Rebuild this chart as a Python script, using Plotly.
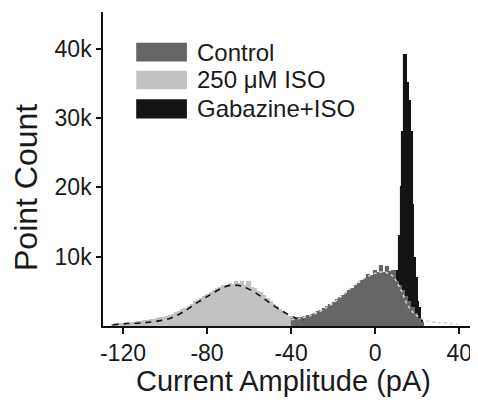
import plotly.graph_objects as go

# ---------------- data ----------------
iso_start, iso_width = -124.5, 1.5
iso_counts = [150, 250, 300, 350, 400, 400, 450, 500, 550, 600,
              650, 700, 800, 850, 1000, 1100, 1200, 1350, 1500, 1650,
              1850, 2050, 2300, 2500, 2800, 3100, 3400, 3600, 3900, 4250,
              4500, 4750, 5000, 5300, 5500, 5750, 5800, 6100, 5950, 6400,
              6000, 6350, 5800, 6300, 5500, 5400, 4900, 4700, 4300, 3900,
              3500, 3100, 2700, 2300, 1950, 1600, 1300]

ctl_start, ctl_width = -39.0, 1.5
ctl_counts = [1000, 1050, 1100, 1200, 1300, 1450, 1600, 1800, 2000, 2200,
              2500, 2800, 3100, 3350, 3700, 4000, 4300, 4650, 5000, 5400,
              5800, 6100, 6500, 6800, 7300, 7200, 7900, 7600, 8600, 7700,
              8500, 7800, 8000, 6400, 5800, 5000, 4200, 3400, 2600, 1800,
              1000, 400]

gab_start, gab_width = 8.6, 0.8
gab_counts = [1500, 2500, 4000, 8000, 13000, 20000, 28000, 39100, 39100, 35000,
              32400, 28000, 17500, 9800, 6900, 3500, 2600, 900, 400]

iso_fit_x = [-125, -118, -111, -105, -98, -91.5, -84.5, -78, -72, -67.5,
             -63, -57, -50.5, -44, -38, -34]
iso_fit_y = [150, 350, 450, 650, 1050, 2000, 3400, 4600, 5600, 5900,
             5700, 4800, 3400, 2100, 1200, 900]

ctl_fit_x = [-40, -30, -20, -10, -5, 0, 4, 8, 12, 15.5, 19, 24, 30, 39]
ctl_fit_y = [900, 1600, 3300, 5900, 6900, 7600, 7800, 7300, 5400, 3000,
             1700, 800, 500, 300]

x_tickvals = [-120, -80, -40, 0, 40]
x_ticktext = ["-120", "-80", "-40", "0", "40"]
y_tickvals = [10000, 20000, 30000, 40000]
y_ticktext = ["10k", "20k", "30k", "40k"]

legend_names = ["Control", "250 \u03bcM ISO", "Gabazine+ISO"]
x_title = "Current Amplitude (pA)"
y_title = "Point Count"

# ---------------- styles ----------------
C_CTL = "#666666"
C_ISO = "#c2c2c2"
C_GAB = "#141414"
TXT = "#1a1a1a"
FONT = "Liberation Sans, Arial, sans-serif"


def centers(start, width, counts):
    return [start + width * i for i in range(len(counts))]


fig = go.Figure()

fig.add_trace(go.Bar(x=centers(gab_start, gab_width, gab_counts), y=gab_counts,
                     width=gab_width, name=legend_names[2],
                     marker=dict(color=C_GAB, line=dict(width=1.1, color=C_GAB))))
fig.add_trace(go.Bar(x=centers(iso_start, iso_width, iso_counts), y=iso_counts,
                     width=iso_width, name=legend_names[1],
                     marker=dict(color=C_ISO, line=dict(width=1.1, color=C_ISO))))
fig.add_trace(go.Bar(x=centers(ctl_start, ctl_width, ctl_counts), y=ctl_counts,
                     width=ctl_width, name=legend_names[0],
                     marker=dict(color=C_CTL, line=dict(width=1.1, color=C_CTL))))

fig.add_trace(go.Scatter(x=iso_fit_x, y=iso_fit_y, mode="lines",
                         line=dict(color="#111111", width=1.6, dash="6px,5px", shape="spline"),
                         showlegend=False, hoverinfo="skip"))
fig.add_trace(go.Scatter(x=ctl_fit_x, y=ctl_fit_y, mode="lines",
                         line=dict(color="#cfcfcf", width=1.6, dash="3px,3px", shape="spline"),
                         showlegend=False, hoverinfo="skip"))

# manual legend (large swatches as in the reference)
sw_x0, sw_x1 = 0.089, 0.225
rows = [(0.842, 0.902, C_CTL), (0.754, 0.813, C_ISO), (0.661, 0.722, C_GAB)]
for (y0, y1, col), name in zip(rows, legend_names):
    fig.add_shape(type="rect", xref="paper", yref="paper",
                  x0=sw_x0, x1=sw_x1, y0=y0, y1=y1,
                  fillcolor=col, line=dict(width=0))
    fig.add_annotation(xref="paper", yref="paper", x=0.247, y=(y0 + y1) / 2,
                       text=name, showarrow=False, xanchor="left", yanchor="middle",
                       font=dict(family=FONT, size=24, color=TXT))

# axis titles placed as in the reference
fig.add_annotation(xref="paper", yref="paper", x=-0.206, y=0.44,
                   text=y_title, textangle=-90, showarrow=False,
                   xanchor="center", yanchor="middle",
                   font=dict(family=FONT, size=32, color=TXT))
fig.add_annotation(xref="paper", yref="paper", x=0.483, y=-0.175,
                   text=x_title, showarrow=False,
                   xanchor="center", yanchor="middle",
                   font=dict(family=FONT, size=29, color=TXT))

# the page body adds an 8px offset, so the figure is 8px smaller on each side
fig.update_layout(
    width=470, height=398,
    margin=dict(l=95, r=2, t=4, b=80, autoexpand=False),
    paper_bgcolor="white", plot_bgcolor="white",
    barmode="overlay", bargap=0,
    showlegend=False,
    font=dict(family=FONT, color=TXT),
)
fig.update_xaxes(range=[-129.5, 48], tickvals=x_tickvals, ticktext=x_ticktext,
                 automargin=False,
                 showgrid=False, zeroline=False, showline=True, linecolor="#111111",
                 linewidth=1.5, ticks="outside", ticklen=6, tickwidth=1.5,
                 tickcolor="#111111", tickfont=dict(family=FONT, size=23, color=TXT))
fig.update_yaxes(range=[0, 45300], tickvals=y_tickvals, ticktext=y_ticktext,
                 automargin=False,
                 showgrid=False, zeroline=False, showline=True, linecolor="#111111",
                 linewidth=1.5, ticks="outside", ticklen=5, tickwidth=1.5,
                 tickcolor="#111111", tickfont=dict(family=FONT, size=23, color=TXT))

fig.write_html("out.html")
